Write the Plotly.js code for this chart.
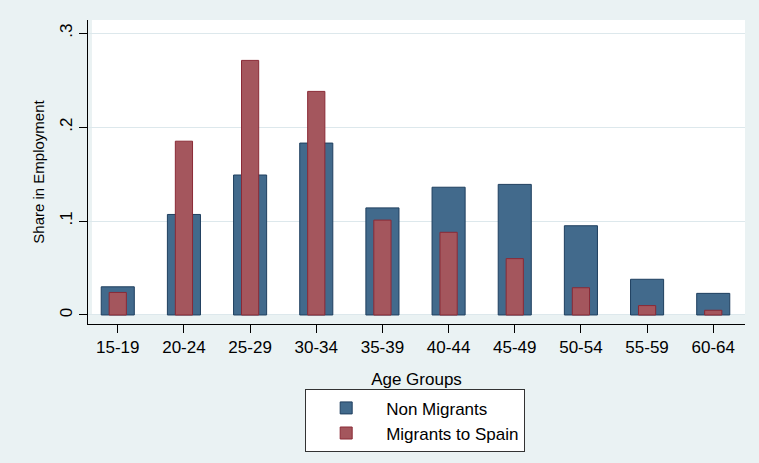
<!DOCTYPE html>
<html>
<head>
<script src="https://cdn.plot.ly/plotly-3.0.1.min.js"></script>
</head>
<body style="margin:0">
<div id="chart" style="width:759px;height:463px"></div>
<script>
var ageGroups = ['15-19','20-24','25-29','30-34','35-39','40-44','45-49','50-54','55-59','60-64'];
var nonMigrants = [0.030, 0.107, 0.149, 0.183, 0.114, 0.136, 0.139, 0.095, 0.038, 0.023];
var migrantsSpain = [0.024, 0.185, 0.271, 0.238, 0.101, 0.088, 0.060, 0.029, 0.010, 0.005];

var data = [
    {
        x: ageGroups, y: nonMigrants, type: 'bar', name: 'Non Migrants', width: 0.5,
        marker: {color: '#426a8c', line: {color: '#1f3f5f', width: 1}}
    },
    {
        x: ageGroups, y: migrantsSpain, type: 'bar', name: 'Migrants to Spain', width: 0.26,
        marker: {color: '#a4565d', line: {color: '#8a2a36', width: 1}}
    }
];

var layout = {
    width: 759, height: 463,
    barmode: 'overlay',
    paper_bgcolor: '#eaf2f3',
    plot_bgcolor: '#eaf2f3',
    margin: {l: 88, r: 14, t: 20, b: 139, autoexpand: false},
    font: {family: 'Liberation Sans, Arial, sans-serif', color: '#000', size: 15},
    shapes: [{
        type: 'rect', xref: 'paper', yref: 'y', x0: 0.006, x1: 1, y0: 0, y1: 0.4,
        fillcolor: '#ffffff', line: {width: 0}, layer: 'below'
    }],
    xaxis: {
        range: [-0.45, 9.48], automargin: false,
        showline: true, linecolor: '#000', linewidth: 1,
        ticks: 'outside', ticklen: 8, tickcolor: '#000',
        tickfont: {size: 17},
        title: {text: 'Age Groups', font: {size: 17}, standoff: 16}
    },
    yaxis: {
        range: [-0.0096, 0.314], automargin: false,
        tickvals: [0, 0.1, 0.2, 0.3], ticktext: ['0', '.1', '.2', '.3'],
        tickangle: -90, tickfont: {size: 17},
        showline: true, linecolor: '#000', linewidth: 1,
        ticks: 'outside', ticklen: 8, tickcolor: '#000',
        showgrid: true, gridcolor: '#dde8ec', zeroline: false,
        title: {text: 'Share in Employment', font: {size: 15}, standoff: 8}
    },
    legend: {
        orientation: 'v', x: 0.498, xanchor: 'center', y: -0.215, yanchor: 'top',
        bgcolor: '#ffffff', bordercolor: '#333', borderwidth: 1,
        font: {size: 17}, traceorder: 'normal', itemwidth: 70
    },
    showlegend: true
};

Plotly.newPlot('chart', data, layout, {displayModeBar: false});
</script>
</body>
</html>
